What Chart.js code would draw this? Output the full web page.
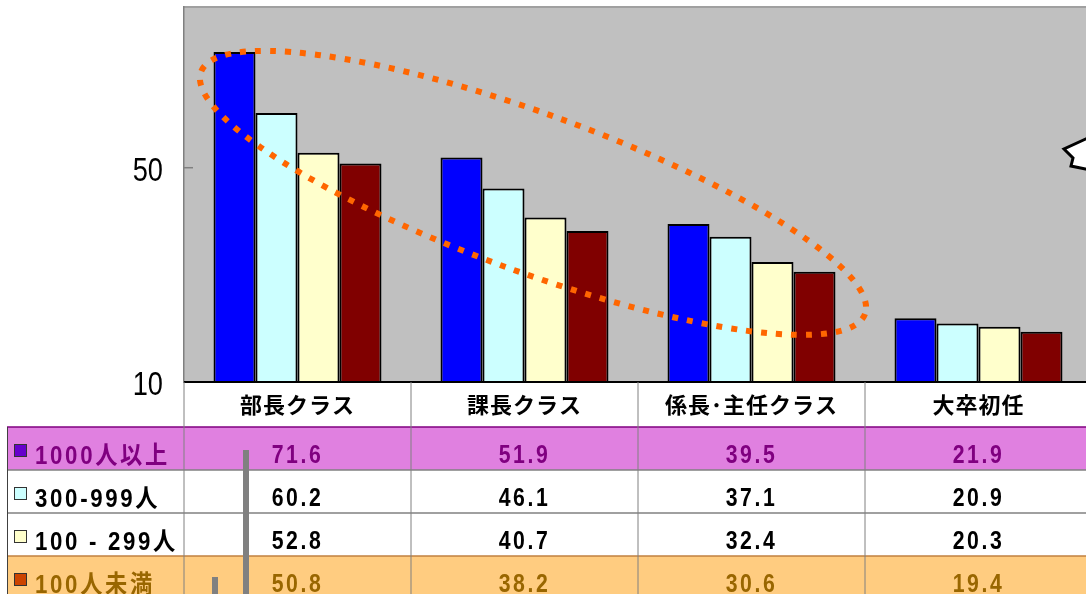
<!DOCTYPE html>
<html>
<head>
<meta charset="utf-8">
<script src="https://cdn.jsdelivr.net/npm/chart.js@4.4.0/dist/chart.umd.min.js"></script>
<style>
  html, body { margin: 0; padding: 0; background: #fff; overflow: hidden; }
  canvas { display: block; }
</style>
</head>
<body>
<canvas id="myChart" width="1100" height="594" style="width:1100px;height:594px"></canvas>
<script>
// data
const categories = ['部長クラス', '課長クラス', '係長･主任クラス', '大卒初任'];
const seriesNames = ['1000人以上', '300-999人', '100 - 299人', '100人未満'];
const over1000 = [71.6, 51.9, 39.5, 21.9];
const from300 = [60.2, 46.1, 37.1, 20.9];
const from100 = [52.8, 40.7, 32.4, 20.3];
const under100 = [50.8, 38.2, 30.6, 19.4];
const yTicks = [10, 50];

// styles
const barColors = ['#0000FF', '#CCFFFF', '#FFFFCC', '#800000'];
const swatchColors = ['#6600CC', '#CCFFFF', '#FFFFCC', '#CC4400'];
const rowText = ['#800080', '#000000', '#000000', '#996600'];
const rowFill = ['#E080E0', null, null, '#FFCC80'];
const SANS = "'Liberation Sans', 'Noto Sans CJK JP', sans-serif";
const CJK = "'Noto Sans CJK JP', sans-serif";

const seriesValues = [over1000, from300, from100, under100];

const data = {
  labels: categories,
  datasets: seriesValues.map((vals, i) => ({
    label: seriesNames[i],
    data: vals,
    backgroundColor: barColors[i],
    borderColor: '#000',
    borderWidth: 2,
    barPercentage: 1,
    categoryPercentage: 0.74
  }))
};

// text squeezed horizontally (the original uses a narrow face)
function fillNarrow(ctx, text, x, y, align, sx) {
  ctx.save();
  ctx.translate(x, y);
  ctx.scale(sx, 1);
  ctx.textAlign = align;
  ctx.fillText(text, 0, 0);
  ctx.restore();
}

const tablePlugin = {
  id: 'tablePlugin',
  beforeDraw(chart) {
    const { ctx, chartArea: { left, top, right, bottom } } = chart;
    ctx.save();
    ctx.fillStyle = '#C0C0C0';
    ctx.fillRect(left, top, right - left, bottom - top);
    ctx.strokeStyle = '#A0A0A0';
    ctx.lineWidth = 2;
    ctx.beginPath();
    ctx.moveTo(left, top);
    ctx.lineTo(right, top);
    ctx.stroke();
    ctx.restore();
  },
  afterDatasetsDraw(chart) {
    const { ctx, scales: { x, y } } = chart;
    // dotted ellipse round the first three groups
    const x1 = x.getPixelForValue(-0.425), y1 = y.getPixelForValue(67.9);
    const x2 = x.getPixelForValue(2.5), y2 = y.getPixelForValue(22.7);
    const cx = (x1 + x2) / 2, cy = (y1 + y2) / 2;
    const a = Math.hypot(x2 - x1, y2 - y1) / 2;
    const rot = Math.atan2(y2 - y1, x2 - x1);
    ctx.save();
    ctx.strokeStyle = '#FF6600';
    ctx.lineWidth = 6;
    ctx.setLineDash([6, 9]);
    ctx.beginPath();
    ctx.ellipse(cx, cy, a, 79, rot, 0, Math.PI * 2);
    ctx.stroke();
    ctx.restore();

    // tick marks point inwards, labels to the left
    ctx.save();
    ctx.strokeStyle = '#808080';
    ctx.lineWidth = 1.5;
    ctx.fillStyle = '#000';
    ctx.font = '34px ' + SANS;
    ctx.textBaseline = 'middle';
    y.ticks.forEach(t => {
      const py = y.getPixelForValue(t.value);
      ctx.beginPath();
      ctx.moveTo(x.left, py);
      ctx.lineTo(x.left + 9, py);
      ctx.stroke();
      fillNarrow(ctx, String(t.value), x.left - 21, py + 4, 'right', 0.8);
    });
    ctx.restore();
  },
  afterDraw(chart) {
    const { ctx, chartArea: { left, right, bottom }, scales: { x } } = chart;
    const W = chart.width, H = chart.height;
    const colW = x.width / categories.length;
    const headH = 45, rowH = 43;
    const tableLeft = 7;

    ctx.save();
    // x axis line
    ctx.strokeStyle = '#000';
    ctx.lineWidth = 2;
    ctx.beginPath();
    ctx.moveTo(left, bottom);
    ctx.lineTo(right, bottom);
    ctx.stroke();

    // row fills
    seriesNames.forEach((n, r) => {
      const ry = bottom + headH + r * rowH;
      if (rowFill[r]) {
        ctx.fillStyle = rowFill[r];
        ctx.fillRect(tableLeft, ry, W - tableLeft, rowH);
      }
    });

    // horizontal lines
    ctx.lineWidth = 1.5;
    for (let r = 0; r <= seriesNames.length; r++) {
      const ry = bottom + headH + r * rowH;
      ctx.strokeStyle = r === 0 ? '#800080' : (r === 3 ? '#C08040' : '#808080');
      ctx.beginPath();
      ctx.moveTo(tableLeft, ry);
      ctx.lineTo(W, ry);
      ctx.stroke();
    }
    // vertical lines
    ctx.strokeStyle = '#808080';
    ctx.lineWidth = 1;
    for (let c = 0; c <= categories.length; c++) {
      const cxp = left + c * colW;
      ctx.beginPath();
      ctx.moveTo(cxp, bottom);
      ctx.lineTo(cxp, H);
      ctx.stroke();
    }
    ctx.strokeStyle = '#404040';
    ctx.beginPath();
    ctx.moveTo(tableLeft + 0.5, bottom + headH);
    ctx.lineTo(tableLeft + 0.5, H);
    ctx.stroke();

    // header labels
    ctx.fillStyle = '#000';
    ctx.textAlign = 'center';
    ctx.textBaseline = 'middle';
    ctx.font = 'bold 22px ' + CJK;
    ctx.letterSpacing = '1px';
    categories.forEach((c, i) => {
      ctx.fillText(c, x.getPixelForValue(i), bottom + headH / 2);
    });

    // rows
    ctx.textBaseline = 'alphabetic';
    seriesNames.forEach((n, r) => {
      const rb = bottom + headH + (r + 1) * rowH;
      ctx.fillStyle = swatchColors[r];
      ctx.fillRect(14, rb - 26, 13, 13);
      ctx.strokeStyle = '#333';
      ctx.lineWidth = 1;
      ctx.strokeRect(14.5, rb - 25.5, 12, 12);
      ctx.fillStyle = rowText[r];
      ctx.font = 'bold 25px ' + SANS;
      ctx.letterSpacing = '3px';
      fillNarrow(ctx, n, 35, rb - 6, 'left', 0.89);
      seriesValues[r].forEach((v, i) => {
        fillNarrow(ctx, v.toFixed(1), x.getPixelForValue(i), rb - 7, 'center', 0.85);
      });
    });
    ctx.letterSpacing = '0px';

    // grey bars of a shape lying over the table
    ctx.fillStyle = '#808080';
    ctx.fillRect(243, 450, 6, H - 450);
    ctx.fillRect(212, 577, 6, H - 577);

    // edge of a callout on the right
    ctx.fillStyle = '#fff';
    ctx.strokeStyle = '#000';
    ctx.lineWidth = 3;
    ctx.beginPath();
    ctx.moveTo(1090, 137);
    ctx.lineTo(1064, 149);
    ctx.lineTo(1073, 158);
    ctx.lineTo(1071, 166);
    ctx.lineTo(1090, 170);
    ctx.closePath();
    ctx.fill();
    ctx.stroke();
    ctx.restore();
  }
};

const config = {
  type: 'bar',
  data,
  options: {
    responsive: false,
    animation: false,
    devicePixelRatio: 1,
    layout: { padding: { left: 0, top: 7, right: 8, bottom: 212 } },
    plugins: {
      legend: { display: false },
      tooltip: { enabled: false }
    },
    scales: {
      x: { display: false },
      y: {
        min: 10,
        max: 80,
        ticks: {
          display: false,
          stepSize: 40
        },
        grid: { display: false, drawTicks: false },
        border: { display: true, color: '#808080', width: 1.5 },
        afterBuildTicks(scale) {
          scale.ticks = yTicks.map(v => ({ value: v }));
        },
        afterFit(scale) {
          scale.width = 184;
          scale.paddingTop = 0;
          scale.paddingBottom = 0;
        }
      }
    }
  },
  plugins: [tablePlugin]
};

const myChart = new Chart(document.getElementById('myChart'), config);
</script>
</body>
</html>
